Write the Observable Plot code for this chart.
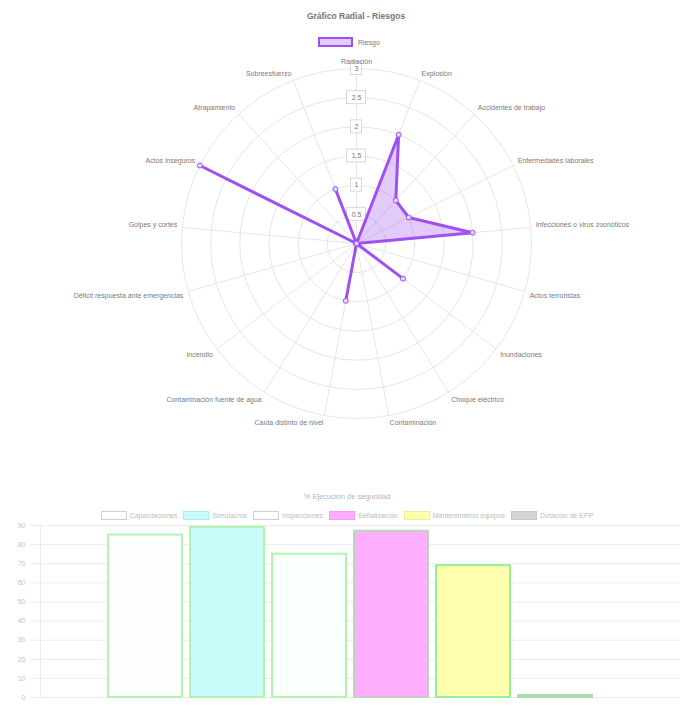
<!DOCTYPE html>
<html>
<head>
<meta charset="utf-8">
<script src="https://cdn.jsdelivr.net/npm/d3@7"></script>
<script src="https://cdn.jsdelivr.net/npm/@observablehq/plot@0.6"></script>
<style>
  html, body { margin: 0; padding: 0; background: #fff; }
  #page { position: relative; width: 680px; height: 705px; overflow: hidden; background: #fff;
          font-family: "Liberation Sans", Arial, Helvetica, sans-serif; }
  .abs { position: absolute; }
  #rTitle { left: 0; width: 712px; top: 11px; text-align: center; font-size: 8.5px; font-weight: bold; color: #777; }
  #rLegend { left: 318px; top: 37px; display: flex; align-items: center; gap: 5px; font-size: 7px; color: #777; }
  #rLegend .box { width: 31px; height: 6px; border: 2px solid #a050f0; background: rgba(160,80,240,0.3); }
  #bTitle { left: 0; width: 694px; top: 492px; text-align: center; font-size: 7.5px; color: #b5b5b5; }
  #bLegend { left: 0; width: 694px; top: 511px; display: flex; justify-content: center; align-items: center; font-size: 7px; color: #bcbcbc; }
  #bLegend .item { display: flex; align-items: center; margin: 0 3px; }
  #bLegend .box { width: 24px; height: 7px; border: 1px solid #ccc; margin-right: 3px; }
  #radar { left: 0; top: 50px; }
  #bars { left: 0; top: 522px; }
</style>
</head>
<body>
<div id="page">
  <div id="rTitle" class="abs"></div>
  <div id="rLegend" class="abs"></div>
  <div id="radar" class="abs"></div>
  <div id="bTitle" class="abs"></div>
  <div id="bLegend" class="abs"></div>
  <div id="bars" class="abs"></div>
</div>
<script>
// ---------- Radar data ----------
const radarTitle = "Gráfico Radial - Riesgos";
const seriesName = "Riesgo";
const categories = [
  "Radiación",
  "Explosión",
  "Accidentes de trabajo",
  "Enfermedades laborales",
  "Infecciones o virus zoonóticos",
  "Actos terroristas",
  "Inundaciones",
  "Choque eléctrico",
  "Contaminación",
  "Caída distinto de nivel",
  "Contaminación fuente de agua",
  "Incendio",
  "Déficit respuesta ante emergencias",
  "Golpes y cortes",
  "Actos inseguros",
  "Atrapamiento",
  "Sobreesfuerzo"
];
const riskValues = [0, 2, 1, 1, 2, 0, 1, 0, 0, 1, 0, 0, 0, 0, 3, 0, 1];
const radialTicks = [0.5, 1, 1.5, 2, 2.5, 3];

// ---------- Bar data ----------
const barTitle = "% Ejecución de seguridad";
const barLabels = ["Capacitaciones", "Simulacros", "Inspecciones", "Señalización", "Mantenimiento equipos", "Dotación de EPP"];
const barValues = [85, 89, 75, 87, 69, 1];
const yTicks = [0, 10, 20, 30, 40, 50, 60, 70, 80, 90];

// ---------- Styles ----------
const lineColor = "#a050f0";
const areaColor = "rgba(160,80,240,0.3)";
const gridColor = "#e6e6e6";
const barFill = ["#fcfffc", "#c9fbfb", "#fbfffb", "#ffadff", "#ffffad", "#c6e6c6"];
const barStroke = ["#b2f3b2", "#b2f3b2", "#b2f3b2", "#bcd3bc", "#93f093", "#a8dca8"];
const legendFill = ["#ffffff", "#c9fbfb", "#ffffff", "#ffadff", "#ffffad", "#d4d4d4"];
const legendStroke = ["#cfcfcf", "#a8eeee", "#cfcfcf", "#f59af5", "#eeee99", "#c8c8c8"];

// ---------- Titles / legends ----------
document.getElementById("rTitle").textContent = radarTitle;
{
  const lg = document.getElementById("rLegend");
  const b = document.createElement("span"); b.className = "box"; lg.appendChild(b);
  const t = document.createElement("span"); t.textContent = seriesName; lg.appendChild(t);
}
document.getElementById("bTitle").textContent = barTitle;
{
  const lg = document.getElementById("bLegend");
  barLabels.forEach((lab, i) => {
    const it = document.createElement("span"); it.className = "item";
    const b = document.createElement("span"); b.className = "box";
    b.style.background = legendFill[i]; b.style.borderColor = legendStroke[i];
    const t = document.createElement("span"); t.textContent = lab;
    it.appendChild(b); it.appendChild(t); lg.appendChild(it);
  });
}

// ---------- Radar ----------
const W = 680, H = 400, mL = 181, mR = 149, mT = 18, mB = 32;
const rPx = (W - mL - mR) / 2;
const rMax = 3;
const n = categories.length;
const rows = categories.map((c, i) => ({cat: c, value: riskValues[i], a: 2 * Math.PI * i / n}));
const px = (r, a) => r * Math.sin(a);
const py = (r, a) => r * Math.cos(a);
const labR = rMax + 5 * rMax / rPx;
const deg = d => d.a * 180 / Math.PI;

function labelMark(filter, textAnchor, lineAnchor) {
  return Plot.text(rows, {
    filter, text: "cat", textAnchor, lineAnchor,
    x: d => px(labR, d.a), y: d => py(labR, d.a),
    fill: "#7a7a7a", fontSize: 7
  });
}

const radar = Plot.plot({
  width: W, height: H, marginLeft: mL, marginRight: mR, marginTop: mT, marginBottom: mB,
  x: {domain: [-rMax, rMax], axis: null},
  y: {domain: [-rMax, rMax], axis: null},
  r: {type: "linear", domain: [0, rMax], range: [0, rPx]},
  style: {fontFamily: "Liberation Sans, Arial, sans-serif", background: "transparent", overflow: "visible"},
  marks: [
    Plot.dot(radialTicks, {x: () => 0, y: () => 0, r: d => d, fill: "none", stroke: gridColor, strokeWidth: 1}),
    Plot.link(rows, {x1: () => 0, y1: () => 0, x2: d => px(rMax, d.a), y2: d => py(rMax, d.a), stroke: gridColor, strokeWidth: 1}),
    Plot.rect(radialTicks, {filter: d => Number.isInteger(d), x1: () => 0, x2: () => 0, y1: d => d, y2: d => d,
      insetLeft: -5.5, insetRight: -5.5, insetTop: -6.5, insetBottom: -6.5, fill: "white", stroke: "#d8d8d8"}),
    Plot.rect(radialTicks, {filter: d => !Number.isInteger(d), x1: () => 0, x2: () => 0, y1: d => d, y2: d => d,
      insetLeft: -9.5, insetRight: -9.5, insetTop: -6.5, insetBottom: -6.5, fill: "white", stroke: "#d8d8d8"}),
    Plot.text(radialTicks, {x: () => 0, y: d => d, text: d => String(d), fill: "#777", fontSize: 7}),
    Plot.line([...rows, rows[0]], {x: d => px(d.value, d.a), y: d => py(d.value, d.a),
      fill: areaColor, stroke: lineColor, strokeWidth: 3, curve: "linear", strokeLinejoin: "round"}),
    Plot.dot(rows, {x: d => px(d.value, d.a), y: d => py(d.value, d.a), r: 2.5, fill: "#e6d5fb", stroke: lineColor, strokeWidth: 1}),
    labelMark(d => deg(d) < 0.01, "middle", "bottom"),
    labelMark(d => deg(d) > 0.01 && deg(d) < 90, "start", "bottom"),
    labelMark(d => deg(d) > 90 && deg(d) < 180, "start", "top"),
    labelMark(d => deg(d) > 180 && deg(d) < 270, "end", "top"),
    labelMark(d => deg(d) > 270, "end", "bottom")
  ]
});
document.getElementById("radar").appendChild(radar);

// ---------- Bars ----------
const barRows = barLabels.map((l, i) => ({label: l, value: barValues[i], i}));
const bars = Plot.plot({
  width: 680, height: 183, marginLeft: 40, marginRight: 0, marginTop: 3, marginBottom: 8,
  x: {domain: barLabels, paddingInner: 0.094, paddingOuter: 0.94, align: 0.434, axis: null},
  y: {domain: [0, 90], axis: null},
  style: {fontFamily: "Liberation Sans, Arial, sans-serif", background: "transparent", overflow: "visible"},
  marks: [
    Plot.gridY(yTicks, {stroke: "#ececec", strokeOpacity: 1}),
    Plot.axisY(yTicks, {tickSize: 10, tickPadding: 5, stroke: "#ececec", fill: "#c2c2c2", fontSize: 7, label: null}),
    Plot.frame({anchor: "left", stroke: "#ececec"}),
    Plot.barY(barRows, {x: "label", y: "value", fill: d => barFill[d.i], stroke: d => barStroke[d.i], strokeWidth: 2})
  ]
});
document.getElementById("bars").appendChild(bars);
</script>
</body>
</html>
